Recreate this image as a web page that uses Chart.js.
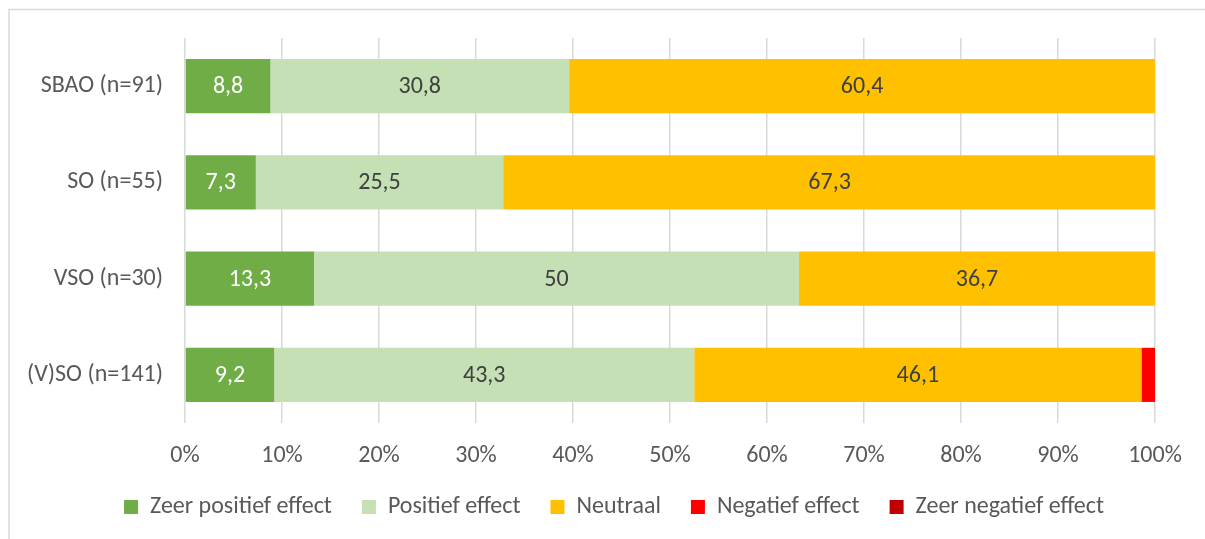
<!DOCTYPE html>
<html>
<head>
<meta charset="utf-8">
<script src="https://cdn.jsdelivr.net/npm/chart.js@4/dist/chart.umd.min.js"></script>
<style>
  html, body { margin: 0; padding: 0; background: #fff; }
  #wrap { position: relative; width: 1205px; height: 539px; }
</style>
</head>
<body>
<div id="wrap"><canvas id="c" width="1205" height="539"></canvas></div>
<script>
const categories = ['SBAO (n=91)', 'SO (n=55)', 'VSO (n=30)', '(V)SO (n=141)'];
const seriesNames = ['Zeer positief effect', 'Positief effect', 'Neutraal', 'Negatief effect', 'Zeer negatief effect'];
const zeerPositief = [8.8, 7.3, 13.3, 9.2];
const positief = [30.8, 25.5, 50, 43.3];
const neutraal = [60.4, 67.3, 36.7, 46.1];
const negatief = [0, 0, 0, 1.4];
const zeerNegatief = [0, 0, 0, 0];
const xTicks = [0, 10, 20, 30, 40, 50, 60, 70, 80, 90, 100];

const colors = ['#70AD47', '#C5E0B4', '#FFC000', '#FF0000', '#C00000'];
const labelColors = ['#FFFFFF', '#404040', '#404040', null, null];
const FONT = "Carlito, Lato, 'Liberation Sans', sans-serif";
const FS = 24;

const seriesValues = [zeerPositief, positief, neutraal, negatief, zeerNegatief];
const datasets = seriesNames.map((name, i) => ({
  label: name,
  data: seriesValues[i],
  backgroundColor: colors[i],
  borderWidth: 0,
  categoryPercentage: 1,
  barPercentage: 0.5625
}));

const frame = {
  id: 'frame',
  afterLayout(chart) {
    // centre the legend row under the plot area, as in the original
    if (chart.legend) chart.legend.left = 73;
  },
  beforeDraw(chart) {
    const ctx = chart.ctx;
    ctx.save();
    ctx.strokeStyle = '#D9D9D9';
    ctx.lineWidth = 1.5;
    ctx.beginPath();
    ctx.moveTo(9, 539);
    ctx.lineTo(9, 9.5);
    ctx.lineTo(1205, 9.5);
    ctx.stroke();
    ctx.restore();
  }
};

const dataLabels = {
  id: 'dataLabels',
  afterDatasetsDraw(chart) {
    const ctx = chart.ctx;
    ctx.save();
    ctx.font = FS + 'px ' + FONT;
    ctx.textAlign = 'center';
    ctx.textBaseline = 'middle';
    chart.data.datasets.forEach((ds, i) => {
      if (!labelColors[i]) return;
      const meta = chart.getDatasetMeta(i);
      meta.data.forEach((el, j) => {
        const v = ds.data[j];
        if (!v) return;
        const p = el.getCenterPoint();
        ctx.fillStyle = labelColors[i];
        ctx.fillText(String(v).replace('.', ','), p.x, p.y + 1);
      });
    });
    ctx.restore();
  }
};

new Chart(document.getElementById('c'), {
  type: 'bar',
  data: { labels: categories, datasets },
  plugins: [frame, dataLabels],
  options: {
    indexAxis: 'y',
    responsive: false,
    animation: false,
    layout: { padding: { top: 38, right: 50, bottom: 10, left: 0 } },
    plugins: {
      legend: {
        position: 'bottom',
        labels: {
          boxWidth: 14,
          boxHeight: 14,
          padding: 30,
          color: '#595959',
          font: { family: FONT, size: FS }
        }
      },
      tooltip: { enabled: false }
    },
    scales: {
      x: {
        stacked: true,
        min: 0,
        max: 100,
        afterBuildTicks(scale) { scale.ticks = xTicks.map(v => ({ value: v })); },
        afterFit(scale) { scale.height = 42; },
        grid: { color: '#D9D9D9', lineWidth: 1.5, drawTicks: false },
        border: { display: false },
        ticks: {
          padding: 19,
          color: '#595959',
          font: { family: FONT, size: FS },
          callback: v => v + '%'
        }
      },
      y: {
        stacked: true,
        afterFit(scale) { scale.width = 185; },
        grid: { display: false, drawTicks: false },
        border: { display: false },
        ticks: {
          padding: 22,
          color: '#595959',
          font: { family: FONT, size: FS }
        }
      }
    }
  }
});
</script>
</body>
</html>
